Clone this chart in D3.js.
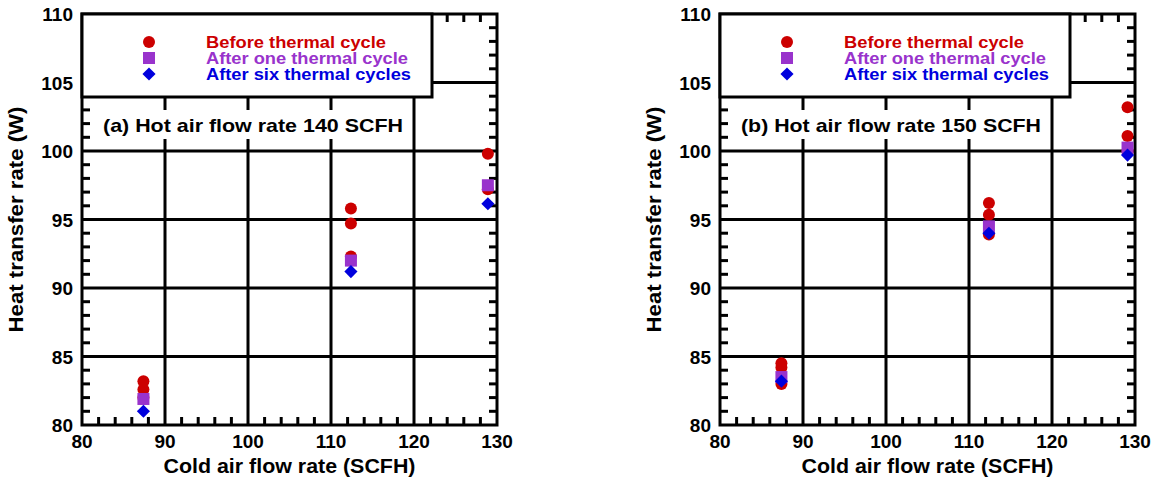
<!DOCTYPE html>
<html>
<head>
<meta charset="utf-8">
<script src="https://cdn.jsdelivr.net/npm/d3@7"></script>
<style>
  body { margin: 0; background: #fff; }
  text { font-family: "Liberation Sans", Arial, sans-serif; font-weight: bold; }
</style>
</head>
<body>
<div id="chart"></div>
<script>
// Data
const seriesNames = ["Before thermal cycle", "After one thermal cycle", "After six thermal cycles"];
const seriesColors = ["#cc0000", "#9933cc", "#0000dd"];
const panelTitles = ["(a) Hot air flow rate 140 SCFH", "(b) Hot air flow rate 150 SCFH"];
const xTicks = [80, 90, 100, 110, 120, 130];
const yTicks = [80, 85, 90, 95, 100, 105, 110];

// panel (a)
const beforeA = [[87.4, 83.2], [87.4, 82.6], [87.4, 82.0], [112.4, 95.8], [112.4, 94.7], [112.4, 92.3], [128.9, 99.8], [128.9, 97.2]];
const oneA = [[87.4, 81.9], [112.4, 92.0], [128.9, 97.5]];
const sixA = [[87.4, 81.0], [112.4, 91.2], [128.9, 96.15]];

// panel (b)
const beforeB = [[87.4, 84.5], [87.4, 84.2], [87.4, 83.0], [112.4, 96.2], [112.4, 95.35], [112.4, 93.9], [129.1, 103.2], [129.1, 101.1], [129.1, 100.0]];
const oneB = [[87.4, 83.5], [112.4, 94.5], [129.1, 100.25]];
const sixB = [[87.4, 83.2], [112.4, 94.0], [129.1, 99.7]];

// measured text widths in the original, used to stretch the text a little
const legendWidths = [180, 202, 205];

const svg = d3.select("#chart").append("svg")
  .attr("width", 1153).attr("height", 482);

function drawPanel(left, title, series) {
  const x = d3.scaleLinear().domain([80, 130]).range([left, left + 415]);
  const y = d3.scaleLinear().domain([80, 110]).range([425, 14]);
  const g = svg.append("g");

  // major grid
  g.selectAll(".gx").data(xTicks.slice(1, -1)).enter().append("line")
    .attr("x1", d => x(d)).attr("x2", d => x(d)).attr("y1", y(80)).attr("y2", y(110))
    .attr("stroke", "#000").attr("stroke-width", 3);
  g.selectAll(".gy").data(yTicks.slice(1, -1)).enter().append("line")
    .attr("x1", x(80)).attr("x2", x(130)).attr("y1", d => y(d)).attr("y2", d => y(d))
    .attr("stroke", "#000").attr("stroke-width", 3);

  // minor ticks on all sides
  const minorX = d3.range(82, 130, 2).filter(v => v % 10 !== 0);
  const minorY = d3.range(81, 110, 1).filter(v => v % 5 !== 0);
  const tl = 8;
  minorX.forEach(v => {
    g.append("line").attr("x1", x(v)).attr("x2", x(v)).attr("y1", y(80)).attr("y2", y(80) - tl)
      .attr("stroke", "#000").attr("stroke-width", 3);
    g.append("line").attr("x1", x(v)).attr("x2", x(v)).attr("y1", y(110)).attr("y2", y(110) + tl)
      .attr("stroke", "#000").attr("stroke-width", 3);
  });
  minorY.forEach(v => {
    g.append("line").attr("x1", x(80)).attr("x2", x(80) + tl).attr("y1", y(v)).attr("y2", y(v))
      .attr("stroke", "#000").attr("stroke-width", 3);
    g.append("line").attr("x1", x(130)).attr("x2", x(130) - tl).attr("y1", y(v)).attr("y2", y(v))
      .attr("stroke", "#000").attr("stroke-width", 3);
  });

  // frame
  g.append("rect").attr("x", x(80)).attr("y", y(110))
    .attr("width", x(130) - x(80)).attr("height", y(80) - y(110))
    .attr("fill", "none").attr("stroke", "#000").attr("stroke-width", 3);

  // tick labels
  g.selectAll(".xl").data(xTicks).enter().append("text")
    .attr("x", d => x(d)).attr("y", 448).attr("text-anchor", "middle")
    .attr("font-size", 19).text(d => d);
  g.selectAll(".yl").data(yTicks).enter().append("text")
    .attr("x", x(80) - 9).attr("y", d => y(d) + 7).attr("text-anchor", "end")
    .attr("font-size", 19).text(d => d);

  // axis titles
  g.append("text").attr("x", (x(80) + x(130)) / 2).attr("y", 473).attr("text-anchor", "middle")
    .attr("font-size", 20).attr("textLength", 252).attr("lengthAdjust", "spacingAndGlyphs")
    .text("Cold air flow rate (SCFH)");
  g.append("text").attr("transform", `translate(${x(80) - 59},${(y(80) + y(110)) / 2}) rotate(-90)`)
    .attr("text-anchor", "middle").attr("font-size", 20)
    .attr("textLength", 226).attr("lengthAdjust", "spacingAndGlyphs")
    .text("Heat transfer rate (W)");

  // legend box
  g.append("rect").attr("x", x(80)).attr("y", y(110)).attr("width", 350).attr("height", 83)
    .attr("fill", "#fff").attr("stroke", "#000").attr("stroke-width", 3);
  const legY = [42, 58, 74];
  seriesNames.forEach((name, i) => {
    const mx = x(80) + 67;
    drawMarker(g, i, mx, legY[i]);
    g.append("text").attr("x", x(80) + 124).attr("y", legY[i] + 6)
      .attr("font-size", 16).attr("fill", seriesColors[i])
      .attr("textLength", legendWidths[i]).attr("lengthAdjust", "spacingAndGlyphs")
      .text(name);
  });

  // panel label with white background
  g.append("rect").attr("x", x(80) + 18).attr("y", 110).attr("width", 306).attr("height", 29)
    .attr("fill", "#fff");
  g.append("text").attr("x", x(80) + 21).attr("y", 132).attr("font-size", 19)
    .attr("textLength", 300).attr("lengthAdjust", "spacingAndGlyphs")
    .attr("fill", "#000").text(title);

  // data points
  series.forEach((pts, i) => {
    pts.forEach(p => drawMarker(g, i, x(p[0]), y(p[1])));
  });
}

function drawMarker(g, i, cx, cy) {
  const c = seriesColors[i];
  if (i === 0) {
    g.append("circle").attr("cx", cx).attr("cy", cy).attr("r", 6).attr("fill", c);
  } else if (i === 1) {
    g.append("rect").attr("x", cx - 6).attr("y", cy - 6).attr("width", 12).attr("height", 12).attr("fill", c);
  } else {
    g.append("path").attr("d", d3.symbol(d3.symbolDiamond2, 110)()).attr("transform", `translate(${cx},${cy})`).attr("fill", c);
  }
}

drawPanel(82, panelTitles[0], [beforeA, oneA, sixA]);
drawPanel(720, panelTitles[1], [beforeB, oneB, sixB]);
</script>
</body>
</html>
